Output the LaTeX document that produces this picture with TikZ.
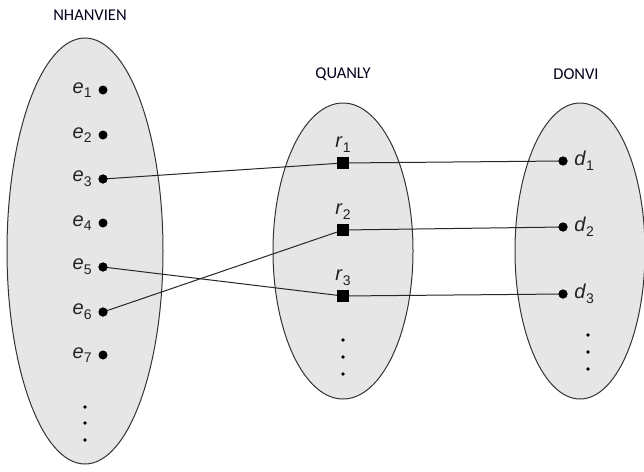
\documentclass[tikz,border=0pt]{standalone}
\usepackage{fontspec}
\setmainfont{Liberation Sans}
\newfontfamily\titlefont{Carlito}
\newcommand\sv[2]{\textit{#1}\raisebox{-0.45ex}{\fontsize{14}{14}\selectfont #2}}
\definecolor{setfill}{HTML}{E6E6E6}
\definecolor{setline}{HTML}{333333}
\definecolor{labcol}{HTML}{222222}
\begin{document}
\begin{tikzpicture}[x=1pt,y=-1pt,
  setshape/.style={draw=setline,fill=setfill,line width=1pt},
  dotn/.style={circle,fill=black,inner sep=0pt,minimum size=9pt},
  sqn/.style={rectangle,fill=black,inner sep=0pt,minimum size=11pt},
  tiny/.style={circle,fill=black,inner sep=0pt,minimum size=3.6pt},
  lab/.style={font=\fontsize{20}{20}\selectfont,text=labcol,inner sep=0.5pt},
  ttl/.style={font=\titlefont\fontsize{16.5}{16.5}\selectfont,text=black!90!blue},
  conn/.style={line width=1pt,draw=black!85}]
\useasboundingbox (0,0) rectangle (644,471);
% sets
\draw[setshape] (85,251) ellipse [x radius=78,y radius=213];
\draw[setshape] (343,251) ellipse [x radius=70,y radius=148];
\draw[setshape] (580,251) ellipse [x radius=65,y radius=148];
% titles
\node[ttl] (tE) at (90,15) {NHANVIEN};
\node[ttl] (tR) at (343,74) {QUANLY};
\node[ttl] (tD) at (576,74) {DONVI};
% employees
\foreach \i/\y in {1/90,2/135,3/179,4/223,5/267,6/312,7/355}
  \node[dotn,label={[lab,label distance=6pt]left:\sv{e}{\i}}] (e\i) at (103,\y) {};
\foreach \i/\y in {1/407,2/423,3/440}
  \node[tiny] (eo\i) at (85,\y) {};
% relationships
\foreach \i/\y in {1/163,2/230,3/296}
  \node[sqn,label={[lab,label distance=4pt]above:\sv{r}{\i}}] (r\i) at (343,\y) {};
\foreach \i/\y in {1/340,2/357,3/374}
  \node[tiny] (ro\i) at (343,\y) {};
% departments
\foreach \i/\y in {1/161,2/227,3/294}
  \node[dotn,label={[lab,label distance=6pt]right:\sv{d}{\i}}] (d\i) at (563,\y) {};
\foreach \i/\y in {1/335,2/352,3/369}
  \node[tiny] (do\i) at (588,\y) {};
% connectors
\draw[conn] (e3.center) -- (r1.center) -- (d1.center);
\draw[conn] (e6.center) -- (r2.center) -- (d2.center);
\draw[conn] (e5.center) -- (r3.center) -- (d3.center);
% redraw node marks on top
\foreach \n in {e3,e5,e6} \fill (\n) circle (4.5pt);
\foreach \n in {d1,d2,d3} \fill (\n) circle (4.5pt);
\foreach \n in {r1,r2,r3} \fill (\n.south west) rectangle (\n.north east);
\end{tikzpicture}
\end{document}
